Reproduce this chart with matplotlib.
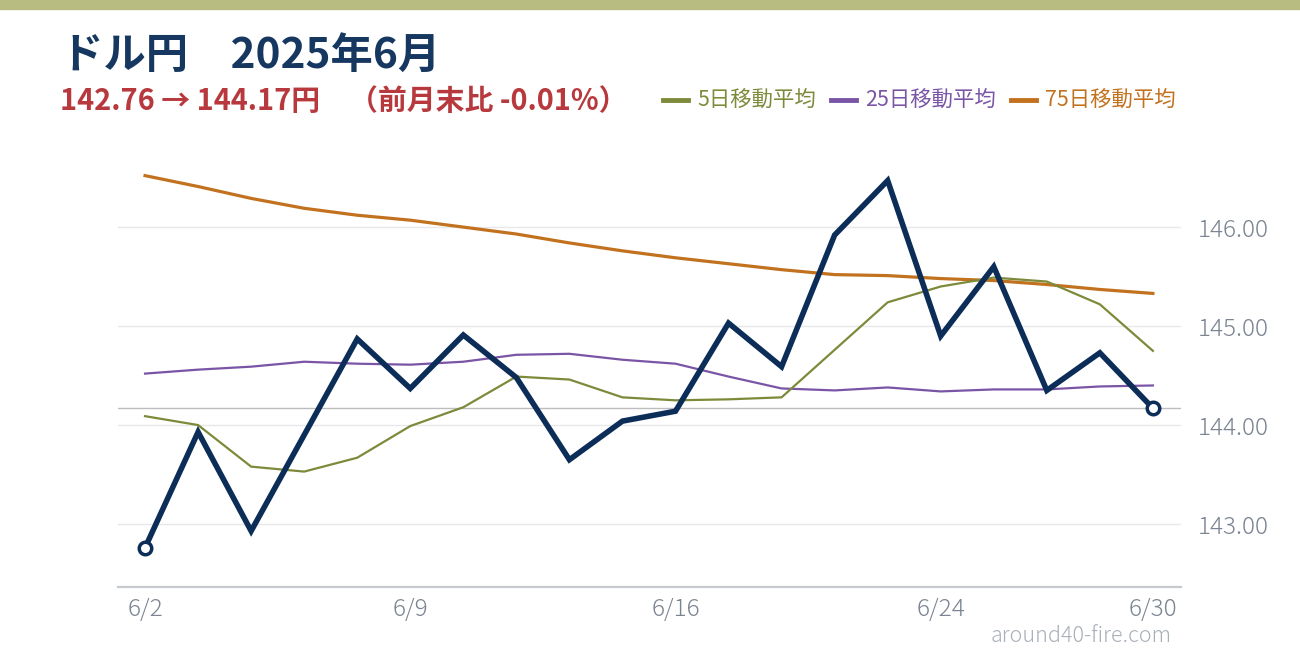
import matplotlib
matplotlib.use("Agg")
import matplotlib.pyplot as plt
from matplotlib.lines import Line2D
from matplotlib.patches import Rectangle

plt.rcParams['font.family'] = ['Noto Sans CJK JP', 'DejaVu Sans']

# business days in June 2025 (no data on 6/19)
dates = ['6/2', '6/3', '6/4', '6/5', '6/6', '6/9', '6/10', '6/11', '6/12', '6/13',
         '6/16', '6/17', '6/18', '6/20', '6/23', '6/24', '6/25', '6/26', '6/27', '6/30']
usdjpy = [142.76, 143.93, 142.93, 143.90, 144.87, 144.37, 144.91, 144.48, 143.65, 144.04,
          144.14, 145.03, 144.59, 145.92, 146.47, 144.90, 145.60, 144.35, 144.73, 144.17]
ma5 = [144.09, 144.00, 143.58, 143.53, 143.67, 143.99, 144.18, 144.49, 144.46, 144.28,
       144.25, 144.26, 144.28, 144.76, 145.24, 145.40, 145.49, 145.45, 145.22, 144.75]
ma25 = [144.52, 144.56, 144.59, 144.64, 144.62, 144.61, 144.64, 144.71, 144.72, 144.66,
        144.62, 144.49, 144.37, 144.35, 144.38, 144.34, 144.36, 144.36, 144.39, 144.40]
ma75 = [146.52, 146.41, 146.29, 146.19, 146.12, 146.07, 146.00, 145.93, 145.84, 145.76,
        145.69, 145.63, 145.57, 145.52, 145.51, 145.48, 145.46, 145.42, 145.37, 145.33]
tick_idx = [0, 5, 10, 15, 19]
yticks = [143, 144, 145, 146]

navy = '#0b2d58'
olive = '#7d8a3a'
purple = '#7a55a6'
orange = '#c2721f'

fig = plt.figure(figsize=(13, 6.6), dpi=100)
fig.patches.append(Rectangle((0, 1 - 9 / 660), 1, 9 / 660, transform=fig.transFigure,
                             color='#b8bc80', zorder=0))

ax = fig.add_axes([118 / 1300, 73 / 660, 1063 / 1300, 447 / 660])
x = list(range(len(dates)))

for v in yticks:
    ax.axhline(v, color='#e8e8ea', lw=1, zorder=1)
ax.axhline(usdjpy[-1], color='#bdbdbd', lw=1, zorder=1)

ax.plot(x, ma75, color=orange, lw=2.3, zorder=3)
ax.plot(x, ma25, color=purple, lw=1.6, zorder=3)
ax.plot(x, ma5, color=olive, lw=1.6, zorder=3)
ax.plot(x, usdjpy, color=navy, lw=4, solid_joinstyle='miter', zorder=4)
ax.plot([x[0], x[-1]], [usdjpy[0], usdjpy[-1]], 'o', ms=9, mfc='white', mec=navy,
        mew=2.5, zorder=5)

ax.set_xlim(-0.51, 19.53)
ax.set_ylim(142.364, 146.88)
ax.set_xticks(tick_idx)
ax.set_xticklabels([dates[i] for i in tick_idx], fontweight='light')
ax.set_yticks(yticks)
ax.set_yticklabels(['%.2f' % v for v in yticks], fontweight='light')
ax.yaxis.tick_right()
ax.tick_params(axis='both', length=0, labelsize=17.5, labelcolor='#7b8491')
ax.tick_params(axis='y', pad=12)
ax.tick_params(axis='x', pad=7)
for s in ['top', 'left', 'right']:
    ax.spines[s].set_visible(False)
ax.spines['bottom'].set_color('#c6cacf')
ax.spines['bottom'].set_linewidth(1.6)

fig.text(61 / 1300, 1 - 57 / 660, 'ドル円　2025年6月', fontsize=30.5, fontweight='bold',
         color='#163860', va='center', ha='left')
fig.text(60 / 1300, 1 - 101 / 660, '142.76 → 144.17円　（前月末比 -0.01%）', fontsize=20.8,
         fontweight='bold', color='#b8393d', va='center', ha='left')

handles = [Line2D([], [], color=olive, lw=3.5),
           Line2D([], [], color=purple, lw=3.5),
           Line2D([], [], color=orange, lw=3.5)]
labels = ['5日移動平均', '25日移動平均', '75日移動平均']
fig.legend(handles, labels, loc='center right', bbox_to_anchor=(1176 / 1300, 1 - 101 / 660),
           ncol=3, frameon=False, fontsize=15.4, labelcolor='linecolor', handlelength=1.15,
           handletextpad=0.45, columnspacing=0.7, borderpad=0, borderaxespad=0)

fig.text(1172 / 1300, 1 - 636 / 660, 'around40-fire.com', fontsize=15.5, color='#a9b0b8',
         fontweight='light', ha='right', va='center')

fig.savefig('out.png', dpi=100, facecolor='white')
